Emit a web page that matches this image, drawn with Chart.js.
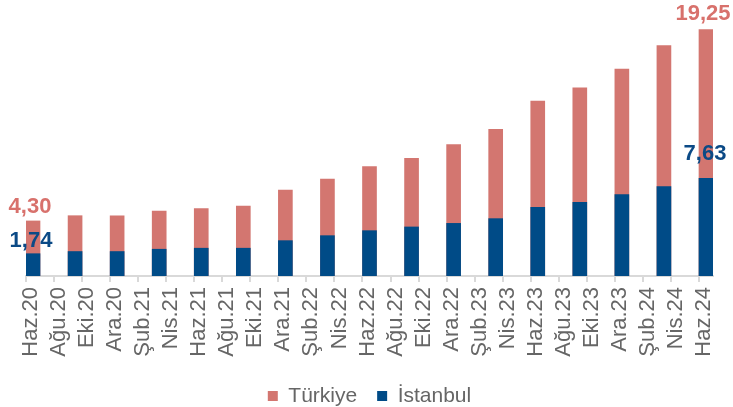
<!DOCTYPE html>
<html>
<head>
<meta charset="utf-8">
<script src="https://cdn.jsdelivr.net/npm/chart.js@4"></script>
<style>
html, body { margin: 0; padding: 0; background: #fff; }
#wrap { width: 733px; height: 407px; position: relative; }
</style>
</head>
<body>
<div id="wrap"><canvas id="myChart"></canvas></div>
<script>
// quarterly data points, placed on a bi-monthly date axis
var periods = ['Haz.20','Eyl.20','Ara.20','Mar.21','Haz.21','Eyl.21','Ara.21','Mar.22','Haz.22','Eyl.22','Ara.22','Mar.23','Haz.23','Eyl.23','Ara.23','Mar.24','Haz.24'];
var periodMonths = [0,3,6,9,12,15,18,21,24,27,30,33,36,39,42,45,48];
var turkiye = [4.30,4.71,4.70,5.08,5.26,5.47,6.71,7.57,8.55,9.20,10.27,11.46,13.67,14.70,16.16,18.00,19.25];
var istanbul = [1.74,1.91,1.91,2.09,2.17,2.17,2.76,3.15,3.54,3.83,4.11,4.48,5.36,5.75,6.35,6.99,7.63];

var tickLabels = ['Haz.20','Ağu.20','Eki.20','Ara.20','Şub.21','Nis.21','Haz.21','Ağu.21','Eki.21','Ara.21','Şub.22','Nis.22','Haz.22','Ağu.22','Eki.22','Ara.22','Şub.23','Nis.23','Haz.23','Ağu.23','Eki.23','Ara.23','Şub.24','Nis.24','Haz.24'];
var tickMonths = [0,2,4,6,8,10,12,14,16,18,20,22,24,26,28,30,32,34,36,38,40,42,44,46,48];

var redColor = '#D37670';
var blueColor = '#004B87';
var fontFamily = '"Liberation Sans", Arial, sans-serif';

function toPoints(values) {
	return values.map(function (v, i) { return { x: periodMonths[i], y: v }; });
}

function fmt(v) {
	return v.toFixed(2).replace('.', ',');
}

// first / last value labels
var valueLabels = {
	id: 'valueLabels',
	afterDatasetsDraw: function (chart) {
		var ctx = chart.ctx;
		var xs = chart.scales.x, ys = chart.scales.y;
		var last = periodMonths.length - 1;
		ctx.save();
		ctx.font = 'bold 22px ' + fontFamily;
		ctx.textAlign = 'center';
		ctx.textBaseline = 'middle';
		ctx.fillStyle = '#D8716C';
		ctx.fillText(fmt(turkiye[0]), xs.getPixelForValue(periodMonths[0]) - 3, ys.getPixelForValue(turkiye[0]) - 14);
		ctx.fillText(fmt(turkiye[last]), xs.getPixelForValue(periodMonths[last]) - 3, ys.getPixelForValue(turkiye[last]) - 16);
		ctx.fillStyle = '#0B4A86';
		ctx.fillText(fmt(istanbul[0]), xs.getPixelForValue(periodMonths[0]) - 2, ys.getPixelForValue(istanbul[0]) - 13);
		ctx.fillText(fmt(istanbul[last]), xs.getPixelForValue(periodMonths[last]) - 1, ys.getPixelForValue(istanbul[last]) - 24);
		ctx.restore();
	}
};

var myChart = document.getElementById('myChart').getContext('2d');
var chart = new Chart(myChart, {
	type: 'bar',
	data: {
		datasets: [{
			label: 'İstanbul',
			data: toPoints(istanbul),
			backgroundColor: blueColor,
			grouped: false,
			barThickness: 14
		}, {
			label: 'Türkiye',
			data: toPoints(turkiye),
			backgroundColor: redColor,
			grouped: false,
			barThickness: 14
		}]
	},
	options: {
		responsive: true,
		maintainAspectRatio: false,
		animation: false,
		layout: { padding: { left: 26, right: 20, top: 20, bottom: -9.5 } },
		scales: {
			x: {
				type: 'linear',
				min: -0.5,
				max: 48.5,
				offset: false,
				afterBuildTicks: function (scale) {
					scale.ticks = tickMonths.map(function (m) { return { value: m - 0.5 }; });
				},
				ticks: {
					autoSkip: false,
					minRotation: 90,
					maxRotation: 90,
					padding: 5,
					labelOffset: 5,
					color: '#666666',
					font: { family: fontFamily, size: 22 },
					callback: function (value, index) { return tickLabels[index]; }
				},
				grid: { offset: false, drawOnChartArea: false, drawTicks: true, tickLength: 6, color: '#D9D9D9', lineWidth: 2 },
				border: { color: '#D9D9D9', width: 2 }
			},
			y: {
				display: false,
				min: 0,
				max: 20
			}
		},
		plugins: {
			legend: {
				position: 'bottom',
				reverse: true,
				// empty title only used as a spacer above the legend row
				title: { display: true, text: '', font: { size: 1 }, padding: { top: 2.6, bottom: 0 } },
				labels: {
					boxWidth: 10,
					boxHeight: 10,
					padding: 20,
					color: '#666666',
					font: { family: fontFamily, size: 21 }
				}
			},
			tooltip: { enabled: false }
		}
	},
	plugins: [valueLabels]
});
</script>
</body>
</html>
